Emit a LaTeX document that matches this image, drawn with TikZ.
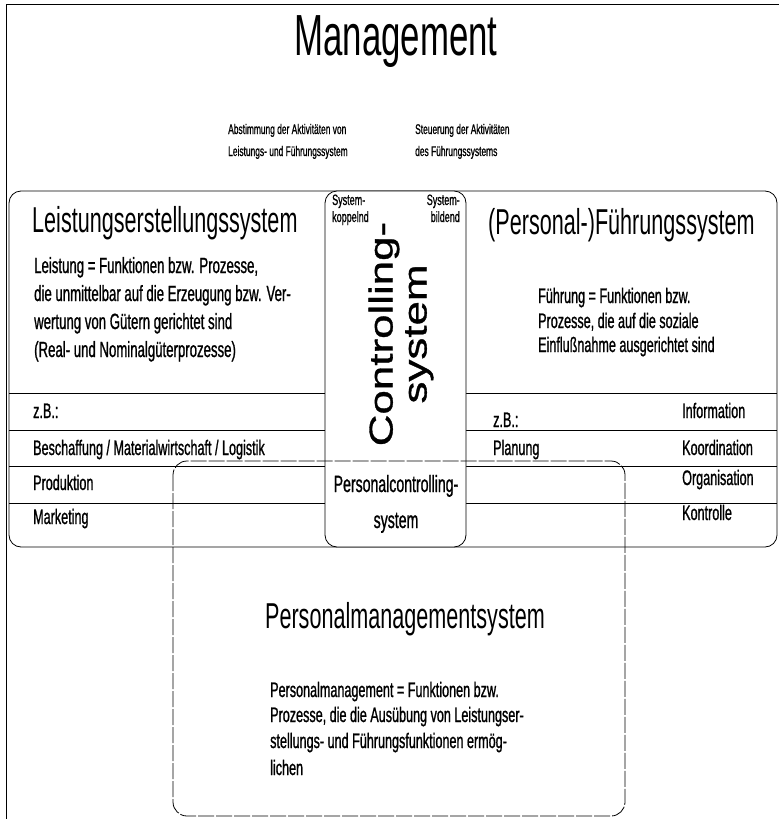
\documentclass[tikz,border=0pt]{standalone}
\usepackage{fontspec}
\setmainfont[FakeStretch=0.6]{Liberation Sans}
\newfontfamily\bodyfont[FakeStretch=0.6,FakeBold=0.9]{Liberation Sans}
\newfontfamily\widefont[FakeStretch=1.33,FakeBold=1.0]{Liberation Sans}
\begin{document}
\begin{tikzpicture}[x=1pt,y=-1pt]
\tikzset{
  ln/.style={line width=0.8pt, black},
  pmline/.style={line width=0.8pt, black, dash pattern=on 16pt off 2pt},
  txt/.style={inner sep=0pt, anchor=base west},
  fs/.style={font=\fontsize{#1}{#1}\selectfont},
  bfs/.style={font=\bodyfont\fontsize{#1}{#1}\selectfont},
}
\useasboundingbox (0,0) rectangle (779,819);
% outer frame (left and top)
\coordinate (ftl) at (6,4);
\coordinate (fbl) at (6,819);
\coordinate (ftr) at (779,4);
\draw[ln] (fbl) -- (ftl) -- (ftr);
% big box
\coordinate (bigTL) at (9,191);
\coordinate (bigBR) at (777,547);
\draw[ln, rounded corners=12pt] (bigTL) rectangle (bigBR);
% separators
\foreach \yy/\nm in {393/a,430/b,466/c,503/d}{
  \coordinate (L\nm) at (9,\yy);
  \coordinate (LR\nm) at (325,\yy);
  \coordinate (RL\nm) at (466,\yy);
  \coordinate (R\nm) at (777,\yy);
  \draw[ln] (L\nm) -- (LR\nm);
  \draw[ln] (RL\nm) -- (R\nm);
}
% controlling box
\coordinate (ctTL) at (325,191);
\coordinate (ctBR) at (466,547);
\draw[ln, rounded corners=12pt, fill=white] (ctTL) rectangle (ctBR);
% personalmanagement box
\coordinate (pmTL) at (173,461);
\coordinate (pmBR) at (625,816);
\draw[pmline, rounded corners=14pt] (pmTL) rectangle (pmBR);

% texts
\node[txt, fs=58, anchor=base] (mgmt) at (396,55) {Management};
\node[txt, bfs=14] (ab1) at (228,134) {Abstimmung der Aktivitäten von};
\node[txt, bfs=14] (ab2) at (228,156) {Leistungs- und Führungssystem};
\node[txt, bfs=14] (st1) at (415,134) {Steuerung der Aktivitäten};
\node[txt, bfs=14] (st2) at (415,156) {des Führungssystems};

\node[txt, fs=36] (lss) at (32,232) {Leistungserstellungssystem};
\node[txt, bfs=22] (l1) at (34,273) {Leistung = Funktionen bzw. Prozesse,};
\node[txt, bfs=22] (l2) at (34,301) {die unmittelbar auf die Erzeugung bzw. Ver-};
\node[txt, bfs=22] (l3) at (34,329) {wertung von Gütern gerichtet sind};
\node[txt, bfs=22] (l4) at (34,357) {(Real- und Nominalgüterprozesse)};

\node[txt, fs=36] (fss) at (488,234) {(Personal-)Führungssystem};
\node[txt, bfs=21] (f1) at (538,303) {Führung = Funktionen bzw.};
\node[txt, bfs=21] (f2) at (538,328) {Prozesse, die auf die soziale};
\node[txt, bfs=21] (f3) at (538,352) {Einflußnahme ausgerichtet sind};

\node[txt, bfs=21] (lzb) at (33,418) {z.B.:};
\node[txt, bfs=21] (lbe) at (33,455) {Beschaffung / Materialwirtschaft / Logistik};
\node[txt, bfs=21] (lpr) at (33,490) {Produktion};
\node[txt, bfs=21] (lma) at (33,524) {Marketing};

\node[txt, bfs=21] (rzb) at (493,427) {z.B.:};
\node[txt, bfs=21] (rpl) at (493,455) {Planung};
\node[txt, bfs=21] (rin) at (682,418) {Information};
\node[txt, bfs=21] (rko) at (682,455) {Koordination};
\node[txt, bfs=21] (ror) at (682,485) {Organisation};
\node[txt, bfs=21] (rkt) at (682,520) {Kontrolle};

\node[txt, bfs=15] (sk1) at (332,205) {System-};
\node[txt, bfs=15] (sk2) at (332,222) {koppelnd};
\node[txt, bfs=15, anchor=base east] (sb1) at (460,205) {System-};
\node[txt, bfs=15, anchor=base east] (sb2) at (460,222) {bildend};

\node[font=\widefont\fontsize{33}{34}\selectfont, rotate=90, align=center, inner sep=0pt] (ctrl) at (401,334) {Controlling-\\system};

\node[txt, bfs=23.5, anchor=base] (pc1) at (396,492) {Personalcontrolling-};
\node[txt, bfs=23.5, anchor=base] (pc2) at (396,528) {system};

\node[txt, fs=36, anchor=base] (pms) at (405,628) {Personalmanagementsystem};
\node[txt, bfs=21] (p1) at (270,697) {Personalmanagement = Funktionen bzw.};
\node[txt, bfs=21] (p2) at (270,722) {Prozesse, die die Ausübung von Leistungser-};
\node[txt, bfs=21] (p3) at (270,748) {stellungs- und Führungsfunktionen ermög-};
\node[txt, bfs=21] (p4) at (270,775) {lichen};
\end{tikzpicture}
\end{document}
